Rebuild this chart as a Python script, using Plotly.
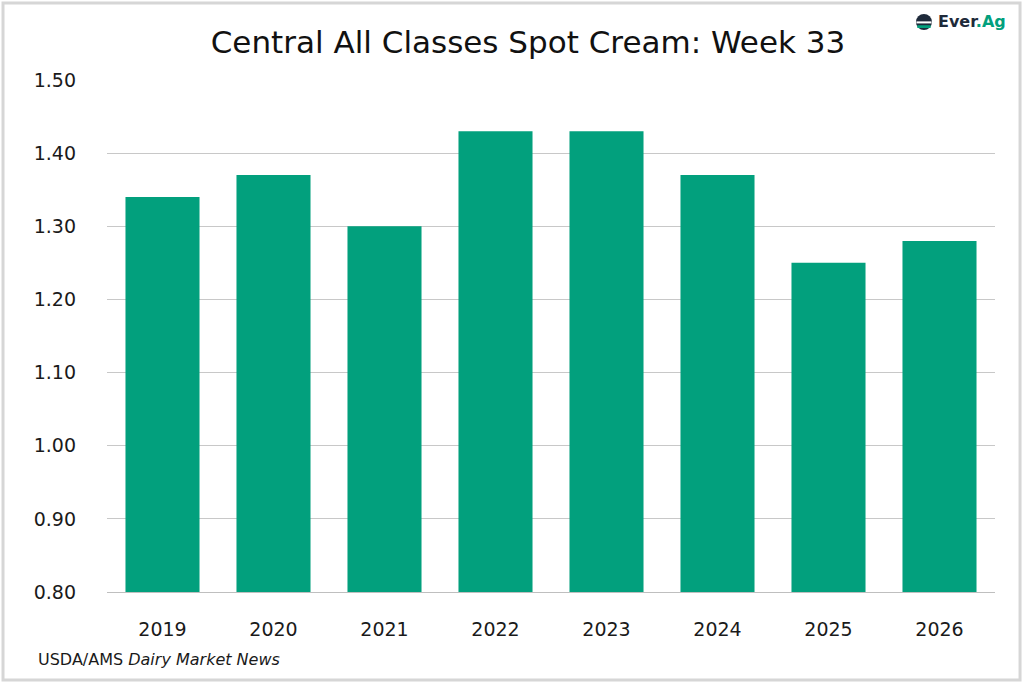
import plotly.graph_objects as go

# Week 33 spot cream, Central all classes ($/lb multiple)
years = ["2019", "2020", "2021", "2022", "2023", "2024", "2025", "2026"]
values = [1.34, 1.37, 1.30, 1.43, 1.43, 1.37, 1.25, 1.28]
y_ticks = [0.80, 0.90, 1.00, 1.10, 1.20, 1.30, 1.40, 1.50]

GREEN = "#02A07D"
NAVY = "#1E2A3A"
FONT = "DejaVu Sans"

fig = go.Figure()
fig.add_trace(go.Bar(x=years, y=values, marker_color=GREEN, marker_line_width=0))

fig.update_layout(
    width=1024, height=683,
    paper_bgcolor="white", plot_bgcolor="white",
    margin=dict(l=107, r=29, t=80, b=91),
    bargap=0.333,
    showlegend=False,
    font=dict(family=FONT, color="#1a1a1a"),
    title=dict(text="Central All Classes Spot Cream: Week 33", xref="container", x=0.5156,
               xanchor="center", y=0.9385, yanchor="middle",
               font=dict(size=31, color="#111111")),
)
fig.update_yaxes(range=[0.80, 1.50], tickvals=y_ticks, ticktext=[f"{v:.2f}" for v in y_ticks],
                 showgrid=True, gridcolor="#c8c8c8", gridwidth=1, zeroline=False,
                 ticks="", ticklabelstandoff=30, tickfont=dict(size=19, color="#1a1a1a"))
fig.update_xaxes(showline=True, linecolor="#bfbfbf", linewidth=1, ticks="",
                 tickfont=dict(size=19, color="#1a1a1a"), ticklabelstandoff=20)

# source note
fig.add_annotation(text="USDA/AMS <i>Dairy Market News</i>", xref="paper", yref="paper",
                   x=-0.080, y=-0.1328, xanchor="left", yanchor="middle", showarrow=False,
                   font=dict(size=16, color="#1a1a1a"))

# Ever.Ag logo
fig.add_annotation(text="<b>Ever<span style='color:#02A07D'>.Ag</span></b>", xref="paper", yref="paper",
                   x=1.0146, y=1.1133, xanchor="right", yanchor="middle", showarrow=False,
                   font=dict(size=16, color=NAVY))
fig.add_shape(type="circle", xref="paper", yref="paper", x0=0.9110, x1=0.9290, y0=1.0977, y1=1.1289,
              fillcolor=NAVY, line_width=0)
fig.add_shape(type="rect", xref="paper", yref="paper", x0=0.9115, x1=0.9285, y0=1.1105, y1=1.1145,
              fillcolor="white", line_width=0)
fig.add_shape(type="rect", xref="paper", yref="paper", x0=0.9125, x1=0.9275, y0=1.1015, y1=1.1070,
              fillcolor=GREEN, line_width=0)

# outer border
fig.add_shape(type="rect", xref="paper", yref="paper", x0=-0.1171, x1=1.0282, y0=-0.1719, y1=1.1504,
              line=dict(color="#d6d6d6", width=3), layer="below")

fig.write_html("out.html", config={"displayModeBar": False},
               post_script="document.body.style.margin='0';")
